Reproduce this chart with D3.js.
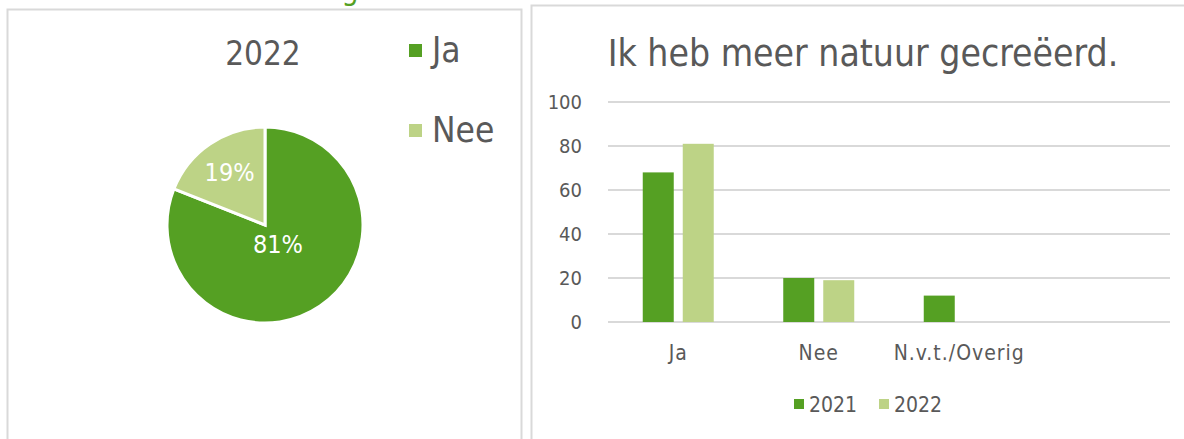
<!DOCTYPE html>
<html>
<head>
<meta charset="utf-8">
<script src="https://cdn.jsdelivr.net/npm/d3@7"></script>
<style>
  html, body { margin: 0; padding: 0; background: #fff; }
  svg { display: block; font-family: "DejaVu Sans Condensed", "Liberation Sans Narrow", sans-serif; }
</style>
</head>
<body>
<svg id="chart" width="1184" height="439"></svg>
<script>
// pie (2022)
const pieLabels = ["Ja", "Nee"];
const pieValues = [81, 19];

// bar chart
const categories = ["Ja", "Nee", "N.v.t./Overig", ""];
const years = ["2021", "2022"];
const values2021 = [68, 20, 12, null];
const values2022 = [81, 19, null, null];
const yTicks = [0, 20, 40, 60, 80, 100];

const colors = ["#55a023", "#bdd386"];
const textColor = "#595959";

const svg = d3.select("#chart");

// panel borders
svg.append("rect")
  .attr("x", 7.5).attr("y", 9.5)
  .attr("width", 514).attr("height", 440)
  .attr("fill", "none").attr("stroke", "#d9d9d9").attr("stroke-width", 2);
svg.append("rect")
  .attr("x", 531.5).attr("y", 5.5)
  .attr("width", 660).attr("height", 440)
  .attr("fill", "none").attr("stroke", "#d9d9d9").attr("stroke-width", 2);

// heading above the panels, only its tail shows at the top edge
svg.append("text")
  .attr("x", 350).attr("y", 0)
  .attr("text-anchor", "middle")
  .attr("fill", "#55a023")
  .attr("font-size", 30)
  .text("g");

// ---- pie ----
const pieG = svg.append("g").attr("transform", "translate(265,225)");
const radius = 98;
const pie = d3.pie().sort(null).value(d => d)(pieValues);
const arc = d3.arc().innerRadius(0).outerRadius(radius);
const labelR = [23, 63];

pieG.selectAll("path")
  .data(pie)
  .join("path")
  .attr("d", arc)
  .attr("fill", (d, i) => colors[i])
  .attr("stroke", "#fff")
  .attr("stroke-width", 3);

pieG.selectAll("text")
  .data(pie)
  .join("text")
  .attr("transform", (d, i) => `translate(${d3.arc().innerRadius(labelR[i]).outerRadius(labelR[i]).centroid(d)})`)
  .attr("text-anchor", "middle")
  .attr("dominant-baseline", "central")
  .attr("fill", "#fff")
  .attr("font-size", 25)
  .text(d => d.data + "%");

svg.append("text")
  .attr("x", 263).attr("y", 65)
  .attr("text-anchor", "middle")
  .attr("fill", textColor)
  .attr("font-size", 33)
  .text("2022");

const pieLegend = svg.append("g");
pieLabels.forEach((lab, i) => {
  const y = 50 + i * 80;
  pieLegend.append("rect")
    .attr("x", 409).attr("y", y - 6)
    .attr("width", 13).attr("height", 13)
    .attr("fill", colors[i]);
  pieLegend.append("text")
    .attr("x", 432).attr("y", y + 12)
    .attr("fill", textColor)
    .attr("font-size", 35)
    .text(lab);
});

// ---- bar chart ----
const x0 = d3.scaleBand().domain(categories).range([608, 1170]);
const y = d3.scaleLinear().domain([0, 100]).range([322, 102]);
const barW = 31, barGap = 9;

svg.append("g")
  .selectAll("line")
  .data(yTicks)
  .join("line")
  .attr("x1", 608).attr("x2", 1170)
  .attr("y1", d => y(d)).attr("y2", d => y(d))
  .attr("stroke", "#d9d9d9").attr("stroke-width", 2);

svg.append("g")
  .selectAll("text")
  .data(yTicks)
  .join("text")
  .attr("x", 582).attr("y", d => y(d))
  .attr("text-anchor", "end")
  .attr("dominant-baseline", "central")
  .attr("fill", textColor)
  .attr("font-size", 20)
  .text(d => d);

const series = [values2021, values2022];
series.forEach((vals, s) => {
  svg.append("g")
    .selectAll("rect")
    .data(categories.map((c, i) => ({ c, v: vals[i] })).filter(d => d.v != null))
    .join("rect")
    .attr("x", d => x0(d.c) + x0.bandwidth() / 2 - barW - barGap / 2 + s * (barW + barGap))
    .attr("y", d => y(d.v))
    .attr("width", barW)
    .attr("height", d => y(0) - y(d.v))
    .attr("fill", colors[s]);
});

svg.append("g")
  .selectAll("text")
  .data(categories)
  .join("text")
  .attr("x", d => x0(d) + x0.bandwidth() / 2)
  .attr("y", 360)
  .attr("text-anchor", "middle")
  .attr("fill", textColor)
  .attr("font-size", 21)
  .attr("letter-spacing", 1)
  .text(d => d);

svg.append("text")
  .attr("x", 863).attr("y", 66)
  .attr("text-anchor", "middle")
  .attr("fill", textColor)
  .attr("font-size", 37)
  .text("Ik heb meer natuur gecreëerd.");

const barLegend = svg.append("g");
const legX = [794, 879];
years.forEach((yr, i) => {
  barLegend.append("rect")
    .attr("x", legX[i]).attr("y", 399)
    .attr("width", 10).attr("height", 10)
    .attr("fill", colors[i]);
  barLegend.append("text")
    .attr("x", legX[i] + 15).attr("y", 412)
    .attr("fill", textColor)
    .attr("font-size", 21)
    .text(yr);
});
</script>
</body>
</html>
